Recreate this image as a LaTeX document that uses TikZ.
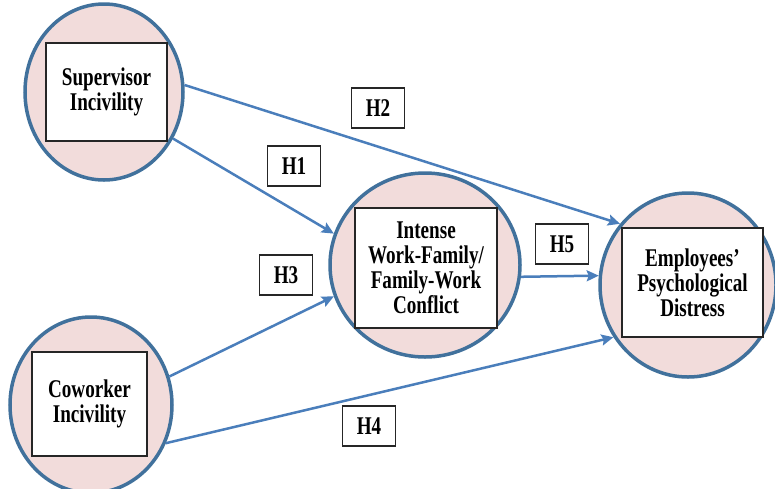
\documentclass[tikz,border=0pt]{standalone}
\usepackage{fontspec}
\setmainfont{Liberation Serif}[FakeStretch=0.75]
\usetikzlibrary{shapes.geometric,arrows.meta}
\definecolor{ringblue}{HTML}{41719C}
\definecolor{linkblue}{HTML}{4A7EBB}
\definecolor{ringfill}{HTML}{F2DCDB}

\begin{document}
\begin{tikzpicture}[x=1pt,y=-1pt,
    ring/.style={ellipse,draw=ringblue,line width=3.5pt,fill=ringfill,inner sep=0pt},
    factor/.style={rectangle,draw=black!85,line width=1.5pt,fill=white,align=center,
      font=\fontsize{25.5}{25}\selectfont\bfseries},
    hyp/.style={rectangle,draw=black!85,line width=1.5pt,fill=white,minimum width=53pt,
      minimum height=40pt,inner sep=0pt,font=\fontsize{25.5}{25}\selectfont\bfseries},
    link/.style={draw=linkblue,line width=2.5pt,-{Stealth[length=12pt,width=11pt,inset=2pt]}}]
      \useasboundingbox (0,0) rectangle (775,488);
      \node [ring,minimum width=158pt,minimum height=176pt] (sup) at (104,92) {};
      \node [ring,minimum width=162pt,minimum height=176pt] (cow) at (91,405) {};
      \node [ring,minimum width=190pt,minimum height=184pt] (wfc) at (425,265) {};
      \node [ring,minimum width=176pt,minimum height=184pt] (epd) at (688,285) {};
      \draw [link] (sup.5) -- (epd.138);
      \draw [link] (sup.-34) -- (wfc.161);
      \draw [link] (cow.20) -- (wfc.-161);
      \draw [link] (cow.-27) -- (epd.-145);
      \draw [link] (wfc.-7) -- (epd.174);
      \node [factor,minimum width=121pt,minimum height=98pt] (supbox) at (106.5,92) {Supervisor\\Incivility};
      \node [factor,minimum width=115pt,minimum height=104pt] (cowbox) at (89.5,404) {Coworker\\Incivility};
      \node [factor,minimum width=142pt,minimum height=120pt] (wfcbox) at (426,268) {Intense\\Work-Family/\\Family-Work\\Conflict};
      \node [factor,minimum width=141pt,minimum height=109pt] (epdbox) at (692.5,282.5) {Employees’\\Psychological\\Distress};
      \node [hyp] (h1) at (294,166) {H1};
      \node [hyp] (h2) at (378,108) {H2};
      \node [hyp] (h3) at (286,275) {H3};
      \node [hyp] (h4) at (369,426) {H4};
      \node [hyp] (h5) at (562,244) {H5};
    \end{tikzpicture}
\end{document}
